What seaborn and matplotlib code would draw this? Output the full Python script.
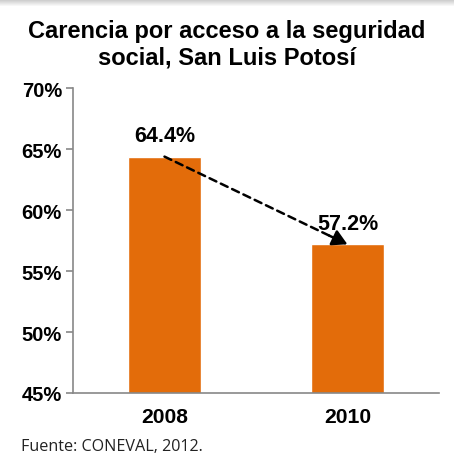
import numpy as np
import pandas as pd
import matplotlib
matplotlib.use("Agg")
import matplotlib.pyplot as plt
import seaborn as sns
from matplotlib.patches import Rectangle

# Data
years = ["2008", "2010"]
values = [64.4, 57.2]
yticks = [45, 50, 55, 60, 65, 70]

df = pd.DataFrame({"Año": years, "Carencia": values})

sns.set_style("white")
plt.rcParams['font.family'] = ['Liberation Sans', 'DejaVu Sans']
plt.rcParams['text.color'] = 'black'
plt.rcParams['xtick.color'] = 'black'
plt.rcParams['ytick.color'] = 'black'

fig = plt.figure(figsize=(4.54, 4.56), dpi=100)
ax = fig.add_axes([0.1608, 0.136, 0.806, 0.668])

sns.barplot(data=df, x="Año", y="Carencia", color="#E36C0A", width=0.4,
            saturation=1, ax=ax)

ax.set_ylim(45, 70)
ax.set_xlim(-0.5, 1.5)
ax.set_yticks(yticks)
ax.set_yticklabels([f"{t}%" for t in yticks], fontsize=14.5, fontweight="bold")
ax.set_xticks(range(len(years)))
ax.set_xticklabels(years, fontsize=15.2, fontweight="bold")
ax.tick_params(axis="x", which="major", length=0, pad=10)
ax.set_xticks([-0.5, 0.5, 1.5], minor=True)
ax.tick_params(axis="x", which="minor", length=5, color="#888888", width=1.2)
ax.tick_params(axis="y", length=5, color="#888888", labelcolor="black",
               width=1.2, left=True, pad=3)
ax.set_xlabel("")
ax.set_ylabel("")

for s in ["top", "right"]:
    ax.spines[s].set_visible(False)
for s in ["left", "bottom"]:
    ax.spines[s].set_color("#888888")
    ax.spines[s].set_linewidth(1.2)

# value labels
for i, v in enumerate(values):
    ax.text(i, v + 1.25, f"{v}%", ha="center", va="baseline", fontsize=15.5,
            fontweight="bold", color="black")

# dashed line between bars, solid arrow head at the end
ax.annotate("", xy=(1, values[1]), xytext=(0, values[0]),
            arrowprops=dict(arrowstyle="-", linestyle=(0, (3, 2)), lw=1.8,
                            color="black", shrinkA=0, shrinkB=8))
ax.annotate("", xy=(1, values[1]), xytext=(0.9, values[1] + 0.1 * (values[0] - values[1])),
            arrowprops=dict(arrowstyle="-|>,head_length=0.9,head_width=0.5",
                            lw=1.8, color="black", shrinkA=0, shrinkB=0))

fig.text(0.5, 1 - 45 / 456, "Carencia por acceso a la seguridad\nsocial, San Luis Potosí",
         ha="center", va="center", fontsize=17, fontweight="bold",
         linespacing=1.2, color="black")

fig.text(21 / 454, 1 - 447 / 456, "Fuente: CONEVAL, 2012.", ha="left",
         va="center", fontsize=11.6, family=["Open Sans", "DejaVu Sans"],
         color="#222222")

# soft grey shadow at the top edge
for k in range(7):
    fig.add_artist(Rectangle((0, 1 - (k + 1) / 456), 1, 1 / 456,
                             transform=fig.transFigure, color="#9a9a9a",
                             alpha=0.55 * (1 - k / 7), lw=0))

fig.savefig("out.png", dpi=100)
